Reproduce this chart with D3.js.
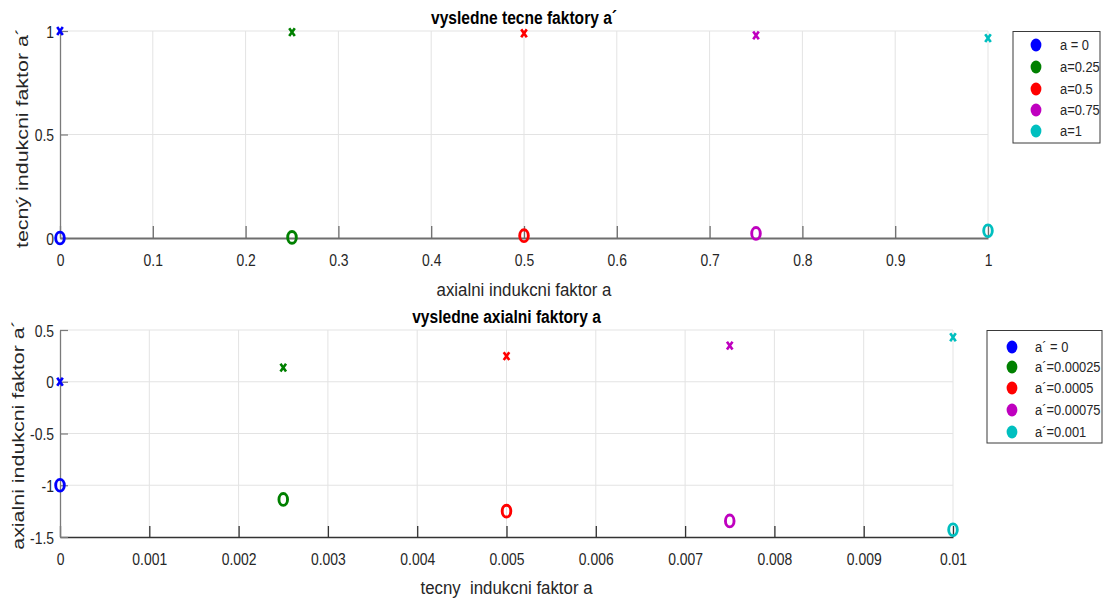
<!DOCTYPE html>
<html>
<head>
<meta charset="utf-8">
<script src="https://cdn.jsdelivr.net/npm/d3@7"></script>
<style>
  body { margin: 0; background: #fff; }
  svg text { font-family: "Liberation Sans", Arial, Helvetica, sans-serif; fill: #262626; white-space: pre; }
</style>
</head>
<body>
<svg id="fig" width="1107" height="604"></svg>
<script>
// colours shared by both panels (one per parameter value)
const seriesColors = ["#0000ff", "#008000", "#ff0000", "#bf00bf", "#00bfbf"];

// upper panel: tangential factor a' solved for given axial factor a
const axialInputs = [0, 0.25, 0.5, 0.75, 1];
const tangentialRootX = [1, 0.995, 0.989, 0.979, 0.966];
const tangentialRootO = [0, 0.003, 0.011, 0.022, 0.035];
const upperLegend = ["a = 0", "a=0.25", "a=0.5", "a=0.75", "a=1"];
const upperXTicks = [0, 0.1, 0.2, 0.3, 0.4, 0.5, 0.6, 0.7, 0.8, 0.9, 1];
const upperYTicks = [0, 0.5, 1];

// lower panel: axial factor a solved for given tangential factor a'
const tangentialInputs = [0, 0.0025, 0.005, 0.0075, 0.01];
const axialRootX = [0, 0.136, 0.248, 0.349, 0.43];
const axialRootO = [-1, -1.137, -1.25, -1.345, -1.43];
const lowerLegend = ["a\u00b4 = 0", "a\u00b4=0.00025", "a\u00b4=0.0005", "a\u00b4=0.00075", "a\u00b4=0.001"];
const lowerXTicks = [0, 0.001, 0.002, 0.003, 0.004, 0.005, 0.006, 0.007, 0.008, 0.009, 0.01];
const lowerYTicks = [-1.5, -1, -0.5, 0, 0.5];

const svg = d3.select("#fig");

// horizontally narrowed text, as the figure is drawn condensed
function label(g, x, y, txt, o) {
  const t = g.append("text")
    .attr("transform", `translate(${x},${y}) scale(${o.f},1)` + (o.rot ? " rotate(-90)" : ""))
    .attr("text-anchor", o.anchor || "middle")
    .style("font-size", o.size + "px")
    .text(txt);
  if (o.bold) t.style("font-weight", "bold").style("fill", "#000");
  if (o.dy) t.attr("dy", o.dy);
  return t;
}

function panel(cfg) {
  const x = d3.scaleLinear().domain(cfg.xDomain).range([cfg.left, cfg.right]);
  const y = d3.scaleLinear().domain(cfg.yDomain).range([cfg.bottom, cfg.top]);
  const g = svg.append("g");

  // grid
  g.append("g").selectAll("line").data(cfg.xTicks.filter(v => v !== cfg.xDomain[0]))
    .join("line")
    .attr("x1", d => x(d)).attr("x2", d => x(d))
    .attr("y1", cfg.top).attr("y2", cfg.bottom)
    .attr("stroke", "#e3e3e3").attr("stroke-width", 1);
  g.append("g").selectAll("line").data(cfg.yTicks.filter(v => v !== cfg.yDomain[0]))
    .join("line")
    .attr("x1", cfg.left).attr("x2", cfg.right)
    .attr("y1", d => y(d)).attr("y2", d => y(d))
    .attr("stroke", "#e3e3e3").attr("stroke-width", 1);

  // x axis line with inward ticks
  const xa = d3.axisBottom(x).tickValues(cfg.xTicks).tickSize(0).tickPadding(0)
    .tickFormat(d => String(d));
  const xg = g.append("g").attr("transform", `translate(0,${cfg.bottom})`).call(xa);
  xg.select(".domain").attr("stroke", cfg.xAxisColor).attr("stroke-width", cfg.xAxisWidth);
  xg.selectAll(".tick line").attr("y2", -cfg.xTickLen).attr("stroke", cfg.xAxisColor).attr("stroke-width", 1.3);
  xg.selectAll(".tick text")
    .attr("y", null).attr("dy", null)
    .attr("transform", `translate(0,${cfg.xTickBase - cfg.bottom}) scale(0.82,1)`)
    .style("font-size", "17px").attr("fill", "#262626");

  // y axis line with inward ticks
  const ya = d3.axisLeft(y).tickValues(cfg.yTicks).tickSize(0).tickPadding(0)
    .tickFormat(d => String(d));
  const yg = g.append("g").attr("transform", `translate(${cfg.left},0)`).call(ya);
  yg.select(".domain").attr("stroke", "#7a7a7a").attr("stroke-width", 1.3);
  yg.selectAll(".tick line").attr("x2", 8).attr("stroke", "#7a7a7a").attr("stroke-width", 1.2);
  yg.selectAll(".tick text")
    .attr("x", null).attr("dy", "0.36em")
    .attr("transform", `translate(${cfg.yTickRight - cfg.left},0) scale(0.82,1)`)
    .style("font-size", "17px").attr("fill", "#262626");

  // markers: circles and crosses for the two roots
  const idx = d3.range(cfg.xs.length);
  g.append("g").selectAll("ellipse").data(idx).join("ellipse")
    .attr("cx", i => x(cfg.xs[i])).attr("cy", i => y(cfg.rootO[i]))
    .attr("rx", 4.3).attr("ry", 5.9)
    .attr("fill", "none").attr("stroke", i => seriesColors[i]).attr("stroke-width", 2.9);
  g.append("g").selectAll("path").data(idx).join("path")
    .attr("transform", i => `translate(${x(cfg.xs[i])},${y(cfg.rootX[i])})`)
    .attr("d", "M-2.8,-3.9L2.8,3.9M-2.8,3.9L2.8,-3.9")
    .attr("fill", "none").attr("stroke", i => seriesColors[i]).attr("stroke-width", 2.6);

  // titles
  const cx = (cfg.left + cfg.right) / 2;
  label(g, cx, cfg.titleBase, cfg.title, { f: 0.82, size: 19, bold: true });
  label(g, cx, cfg.xLabelBase, cfg.xLabel, { f: 0.91, size: 18.5 });
  label(g, cfg.yLabelX, cfg.yLabelY, cfg.yLabel, { f: 0.75, size: 21.4, rot: true });

  // legend
  const L = cfg.legend;
  g.append("rect")
    .attr("x", L.x0).attr("y", L.y0).attr("width", L.x1 - L.x0).attr("height", L.y1 - L.y0)
    .attr("fill", "#fff").attr("stroke", "#3a3a3a").attr("stroke-width", 1);
  const rows = g.append("g").selectAll("g").data(cfg.legendText).join("g")
    .attr("transform", (d, i) => `translate(0,${L.rows[i]})`);
  rows.append("ellipse").attr("cx", L.mx).attr("cy", 0).attr("rx", 5.4).attr("ry", 6.4)
    .attr("fill", (d, i) => seriesColors[i]);
  rows.each(function (d) {
    label(d3.select(this), L.tx, 0, d, { f: 0.86, size: 15, anchor: "start", dy: "0.36em" });
  });
}

panel({
  xDomain: [0, 1], yDomain: [0, 1],
  left: 60, right: 988, top: 31, bottom: 238,
  xTicks: upperXTicks, yTicks: upperYTicks,
  xs: axialInputs, rootX: tangentialRootX, rootO: tangentialRootO,
  xAxisColor: "#6e6e6e", xAxisWidth: 2, xTickLen: 12,
  xTickBase: 266, yTickRight: 54,
  title: "vysledne tecne faktory a\u00b4", titleBase: 24,
  xLabel: "axialni indukcni faktor a", xLabelBase: 296,
  yLabel: "tecn\u00fd indukcni faktor a\u00b4", yLabelX: 28, yLabelY: 138,
  legendText: upperLegend,
  legend: { x0: 1013, x1: 1100, y0: 31.5, y1: 143, rows: [45, 67, 89, 110, 131], mx: 1036, tx: 1060 }
});

panel({
  xDomain: [0, 0.01], yDomain: [-1.5, 0.5],
  left: 60, right: 953, top: 330, bottom: 537,
  xTicks: lowerXTicks, yTicks: lowerYTicks,
  xs: tangentialInputs, rootX: axialRootX, rootO: axialRootO,
  xAxisColor: "#333333", xAxisWidth: 1.5, xTickLen: 11,
  xTickBase: 565, yTickRight: 54,
  title: "vysledne axialni faktory a", titleBase: 323,
  xLabel: "tecny  indukcni faktor a", xLabelBase: 594,
  yLabel: "axialni indukcni faktor a\u00b4", yLabelX: 24, yLabelY: 435,
  legendText: lowerLegend,
  legend: { x0: 987, x1: 1102, y0: 330.5, y1: 443, rows: [347, 367, 388, 410, 432], mx: 1012, tx: 1035 }
});
</script>
</body>
</html>
